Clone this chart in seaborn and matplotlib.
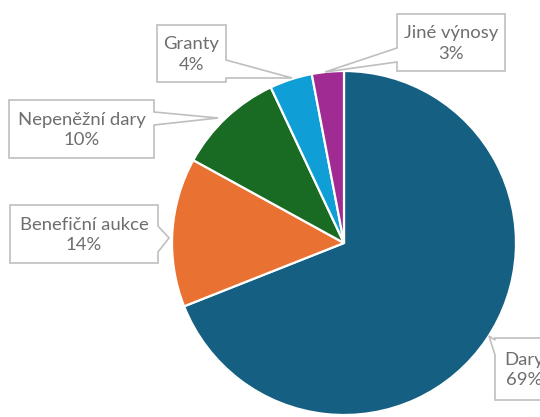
import matplotlib
matplotlib.use("Agg")
import seaborn as sns
import matplotlib.pyplot as plt
from matplotlib.patches import Polygon

# data
labels = ["Dary", "Benefiční aukce", "Nepeněžní dary", "Granty", "Jiné výnosy"]
values = [69, 14, 10, 4, 3]
colors = ["#156082", "#E97132", "#196B24", "#0F9ED5", "#A02B93"]

W, H = 540, 417

sns.set_theme(style="white")
plt.rcParams['font.family'] = ['Lato', 'DejaVu Sans']

fig = plt.figure(figsize=(W / 100, H / 100), dpi=100)
ax = fig.add_axes([0, 0, 1, 1])

# kolac
ax.pie(values, colors=sns.color_palette(colors), center=(344, H - 243), radius=172,
       startangle=90, counterclock=False,
       wedgeprops=dict(edgecolor="white", linewidth=1.6))
ax.set_xlim(0, W)
ax.set_ylim(0, H)
ax.set_aspect("equal")
ax.axis("off")

# popisky (box: x0, y0, x1, y1, strana sipky, notch y0, notch y1, spicka) - souradnice shora
boxes = {
    "Dary": (495, 338, 552, 400, "left", 340, 355, (489, 336)),
    "Benefiční aukce": (10, 205, 158, 263, "right", 226, 252, (169, 238)),
    "Nepeněžní dary": (9, 100, 154, 158, "right", 112, 125, (218, 118)),
    "Granty": (157, 25, 226, 82, "right", 60, 78, (292, 78)),
    "Jiné výnosy": (397, 14, 505, 71, "left", 48, 62, (325, 72)),
}

for lab, val in zip(labels, values):
    x0, y0, x1, y1, side, n0, n1, tip = boxes[lab]
    pts = [(x0, y0), (x1, y0)]
    if side == "right":
        pts += [(x1, n0), tip, (x1, n1)]
    pts += [(x1, y1), (x0, y1)]
    if side == "left":
        pts += [(x0, n1), tip, (x0, n0)]
    pts = [(px, H - py) for px, py in pts]
    ax.add_patch(Polygon(pts, closed=True, facecolor="white", edgecolor="#BFBFBF",
                         linewidth=1.2, zorder=3))
    cx = (x0 + x1) / 2 if lab != "Dary" else 524
    ax.text(cx, H - (y0 + y1) / 2 - 1, "{}\n{}%".format(lab, val), ha="center", va="center",
            fontsize=13.3, color="#6E6E6E", linespacing=1.38, zorder=4)

fig.savefig("out.png", dpi=100)
